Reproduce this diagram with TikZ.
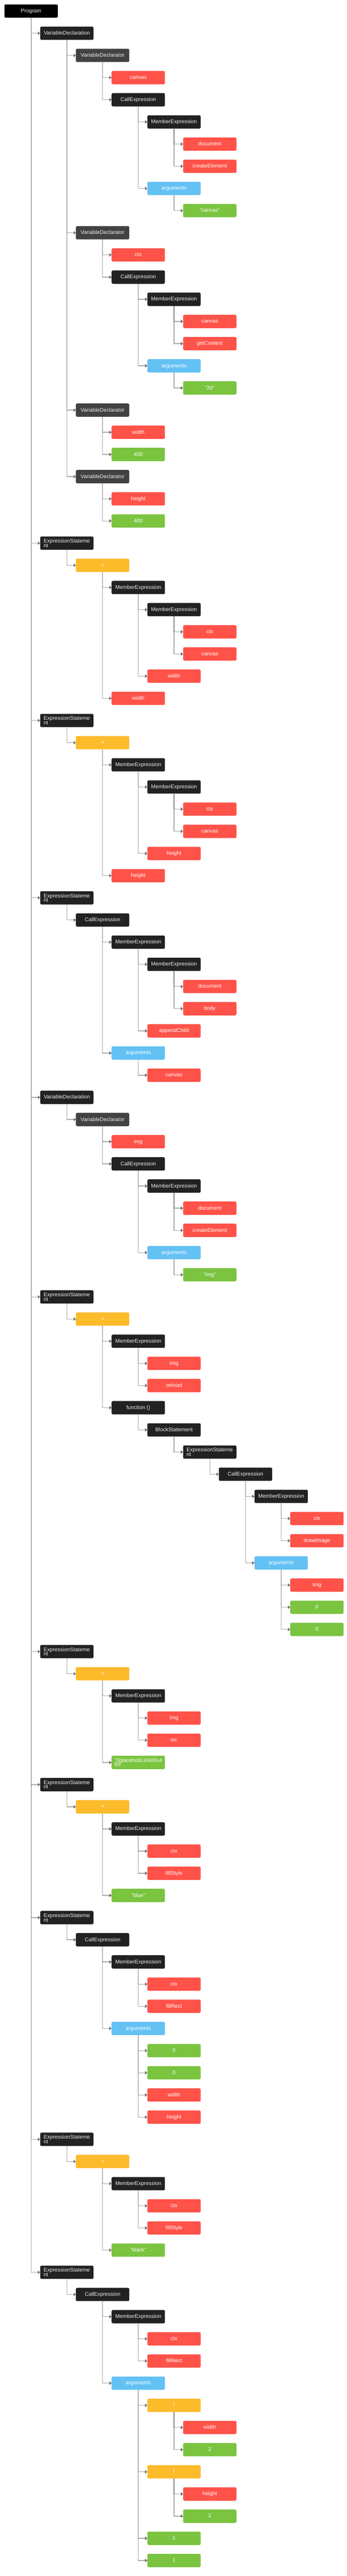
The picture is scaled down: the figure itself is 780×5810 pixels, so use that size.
\documentclass[tikz,border=0pt]{standalone}
\usepackage{fontspec}
\setmainfont{Liberation Sans}
\definecolor{cProg}{HTML}{000000}
\definecolor{cDark}{HTML}{222222}
\definecolor{cDecl}{HTML}{424242}
\definecolor{cRed}{HTML}{FF5249}
\definecolor{cGreen}{HTML}{7AC43F}
\definecolor{cBlue}{HTML}{63C1F3}
\definecolor{cYellow}{HTML}{FCBB2B}
\definecolor{cLine}{HTML}{707070}
\definecolor{cTip}{HTML}{6E6E6E}
\definecolor{cDarkText}{HTML}{EEEEEE}
\newcommand\linkto[2]{%
  \draw[link] (#1.south) |- (#2.west);%
  \fill[tipc] (#2.west) -- ++(-5,-4) -- ++(0,8) -- cycle;}
\newcommand\tn[4]{%
  \node[box,#3] (n#1) at ({70+80.4*#2},{25+50*#1}) {#4};%
  \expandafter\xdef\csname tlast#2\endcsname{n#1}%
  \ifnum#2>0
    \edef\tpar{\csname tlast\number\numexpr#2-1\relax\endcsname}%
    \linkto{\tpar}{n#1}%
  \fi}
\begin{document}
\begin{tikzpicture}[x=1pt,y=-1pt,
  box/.style={rounded corners=3pt, minimum width=120pt, minimum height=30pt,
    inner sep=0pt, text height=8pt, text depth=1pt,
    font={\fontsize{12}{10}\selectfont\lineskiplimit=-20pt}},
  prog/.style={fill=cProg, text=cDarkText},
  dk/.style={fill=cDark, text=cDarkText},
  decl/.style={fill=cDecl, text=cDarkText},
  idf/.style={fill=cRed, text=white},
  lit/.style={fill=cGreen, text=white},
  arg/.style={fill=cBlue, text=white},
  op/.style={fill=cYellow, text=white},
  wrap/.style={align=left, text height={}, text depth={}},
  link/.style={draw=cLine, line width=1.5pt, opacity=0.6},
  tipc/.style={fill=cTip}]
\fill[white] (0,0) rectangle (780,5810);
\path[use as bounding box] (0,0) rectangle (780,5810);
\tn{0}{0}{prog}{Program}
\tn{1}{1}{dk}{VariableDeclaration}
\tn{2}{2}{decl}{VariableDeclarator}
\tn{3}{3}{idf}{canvas}
\tn{4}{3}{dk}{CallExpression}
\tn{5}{4}{dk}{MemberExpression}
\tn{6}{5}{idf}{document}
\tn{7}{5}{idf}{createElement}
\tn{8}{4}{arg}{arguments}
\tn{9}{5}{lit}{"canvas"}
\tn{10}{2}{decl}{VariableDeclarator}
\tn{11}{3}{idf}{ctx}
\tn{12}{3}{dk}{CallExpression}
\tn{13}{4}{dk}{MemberExpression}
\tn{14}{5}{idf}{canvas}
\tn{15}{5}{idf}{getContext}
\tn{16}{4}{arg}{arguments}
\tn{17}{5}{lit}{"2d"}
\tn{18}{2}{decl}{VariableDeclarator}
\tn{19}{3}{idf}{width}
\tn{20}{3}{lit}{400}
\tn{21}{2}{decl}{VariableDeclarator}
\tn{22}{3}{idf}{height}
\tn{23}{3}{lit}{400}
\tn{24}{1}{dk,wrap}{ExpressionStateme\\nt}
\tn{25}{2}{op}{=}
\tn{26}{3}{dk}{MemberExpression}
\tn{27}{4}{dk}{MemberExpression}
\tn{28}{5}{idf}{ctx}
\tn{29}{5}{idf}{canvas}
\tn{30}{4}{idf}{width}
\tn{31}{3}{idf}{width}
\tn{32}{1}{dk,wrap}{ExpressionStateme\\nt}
\tn{33}{2}{op}{=}
\tn{34}{3}{dk}{MemberExpression}
\tn{35}{4}{dk}{MemberExpression}
\tn{36}{5}{idf}{ctx}
\tn{37}{5}{idf}{canvas}
\tn{38}{4}{idf}{height}
\tn{39}{3}{idf}{height}
\tn{40}{1}{dk,wrap}{ExpressionStateme\\nt}
\tn{41}{2}{dk}{CallExpression}
\tn{42}{3}{dk}{MemberExpression}
\tn{43}{4}{dk}{MemberExpression}
\tn{44}{5}{idf}{document}
\tn{45}{5}{idf}{body}
\tn{46}{4}{idf}{appendChild}
\tn{47}{3}{arg}{arguments}
\tn{48}{4}{idf}{canvas}
\tn{49}{1}{dk}{VariableDeclaration}
\tn{50}{2}{decl}{VariableDeclarator}
\tn{51}{3}{idf}{img}
\tn{52}{3}{dk}{CallExpression}
\tn{53}{4}{dk}{MemberExpression}
\tn{54}{5}{idf}{document}
\tn{55}{5}{idf}{createElement}
\tn{56}{4}{arg}{arguments}
\tn{57}{5}{lit}{"img"}
\tn{58}{1}{dk,wrap}{ExpressionStateme\\nt}
\tn{59}{2}{op}{=}
\tn{60}{3}{dk}{MemberExpression}
\tn{61}{4}{idf}{img}
\tn{62}{4}{idf}{onload}
\tn{63}{3}{dk}{function ()}
\tn{64}{4}{dk}{BlockStatement}
\tn{65}{5}{dk,wrap}{ExpressionStateme\\nt}
\tn{66}{6}{dk}{CallExpression}
\tn{67}{7}{dk}{MemberExpression}
\tn{68}{8}{idf}{ctx}
\tn{69}{8}{idf}{drawImage}
\tn{70}{7}{arg}{arguments}
\tn{71}{8}{idf}{img}
\tn{72}{8}{lit}{0}
\tn{73}{8}{lit}{0}
\tn{74}{1}{dk,wrap}{ExpressionStateme\\nt}
\tn{75}{2}{op}{=}
\tn{76}{3}{dk}{MemberExpression}
\tn{77}{4}{idf}{img}
\tn{78}{4}{idf}{src}
\tn{79}{3}{lit,wrap}{"//placehold.it/400x4\\00"}
\tn{80}{1}{dk,wrap}{ExpressionStateme\\nt}
\tn{81}{2}{op}{=}
\tn{82}{3}{dk}{MemberExpression}
\tn{83}{4}{idf}{ctx}
\tn{84}{4}{idf}{fillStyle}
\tn{85}{3}{lit}{"blue"}
\tn{86}{1}{dk,wrap}{ExpressionStateme\\nt}
\tn{87}{2}{dk}{CallExpression}
\tn{88}{3}{dk}{MemberExpression}
\tn{89}{4}{idf}{ctx}
\tn{90}{4}{idf}{fillRect}
\tn{91}{3}{arg}{arguments}
\tn{92}{4}{lit}{0}
\tn{93}{4}{lit}{0}
\tn{94}{4}{idf}{width}
\tn{95}{4}{idf}{height}
\tn{96}{1}{dk,wrap}{ExpressionStateme\\nt}
\tn{97}{2}{op}{=}
\tn{98}{3}{dk}{MemberExpression}
\tn{99}{4}{idf}{ctx}
\tn{100}{4}{idf}{fillStyle}
\tn{101}{3}{lit}{"black"}
\tn{102}{1}{dk,wrap}{ExpressionStateme\\nt}
\tn{103}{2}{dk}{CallExpression}
\tn{104}{3}{dk}{MemberExpression}
\tn{105}{4}{idf}{ctx}
\tn{106}{4}{idf}{fillRect}
\tn{107}{3}{arg}{arguments}
\tn{108}{4}{op}{/}
\tn{109}{5}{idf}{width}
\tn{110}{5}{lit}{2}
\tn{111}{4}{op}{/}
\tn{112}{5}{idf}{height}
\tn{113}{5}{lit}{2}
\tn{114}{4}{lit}{1}
\tn{115}{4}{lit}{1}
\end{tikzpicture}
\end{document}
